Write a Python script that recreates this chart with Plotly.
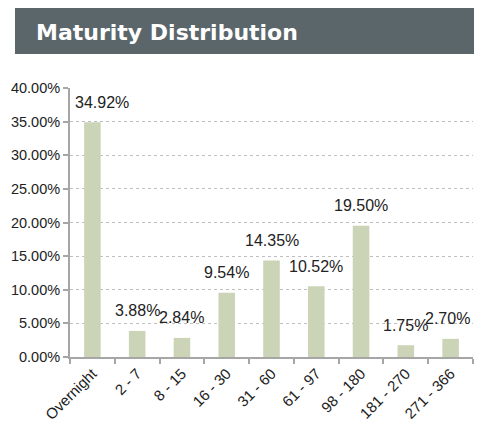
import plotly.graph_objects as go

categories = ["Overnight", "2 - 7", "8 - 15", "16 - 30", "31 - 60", "61 - 97", "98 - 180", "181 - 270", "271 - 366"]
values = [0.3492, 0.0388, 0.0284, 0.0954, 0.1435, 0.1052, 0.1950, 0.0175, 0.0270]
title_text = "Maturity Distribution"

# page shows figure offset by the 8px body margin; work in page pixels
OFF = 8
W, H = 482 - 2 * OFF, 430 - 2 * OFF
L, R, T = 70 - OFF, 1, 88 - OFF
B = H - (357 - OFF)
pw, ph = W - L - R, H - T - B

def px_x(p):
    return (p - OFF - L) / pw

def px_y(p):
    return 1 + (T - (p - OFF)) / ph

fig = go.Figure()
fig.add_trace(go.Bar(
    x=categories, y=values, width=0.37,
    marker=dict(color="#cbd4b6", line=dict(width=0)),
    hoverinfo="skip",
))

for i, (c, v) in enumerate(zip(categories, values)):
    xs = 0
    if i == 0:
        xs = 10
    elif i == len(categories) - 1:
        xs = -3
    fig.add_annotation(
        x=c, y=v, text=f"{v*100:.2f}%", showarrow=False,
        yshift=20, xshift=xs,
        font=dict(family="Liberation Sans, Arial", size=16, color="#222222"),
    )

fig.add_shape(type="rect", xref="paper", yref="paper",
              x0=px_x(15), x1=px_x(500), y0=px_y(54), y1=px_y(0),
              fillcolor="#5b666b", line=dict(width=0), layer="above")
fig.add_annotation(xref="paper", yref="paper", x=px_x(34), y=px_y(32),
                   xanchor="left", yanchor="middle", showarrow=False,
                   text=title_text,
                   font=dict(family="DejaVu Sans", size=22, color="#ffffff", weight="bold"))

fig.update_layout(
    width=W, height=H,
    margin=dict(l=L, r=R, t=T, b=B, autoexpand=False),
    paper_bgcolor="white", plot_bgcolor="white",
    showlegend=False,
    font=dict(family="Liberation Sans, Arial", size=16, color="#222222"),
)
fig.update_xaxes(
    type="category", showline=True, linecolor="#a6a6a6", linewidth=2,
    ticks="outside", tickson="boundaries", ticklen=5, tickcolor="#a6a6a6", tickwidth=2,
    tickangle=-45, showgrid=False, automargin=False,
    tickfont=dict(family="Liberation Sans, Arial", size=15, color="#222222"),
)
fig.update_yaxes(
    range=[0, 0.40], dtick=0.05, tickformat=".2%",
    showline=True, linecolor="#a6a6a6", linewidth=2,
    ticks="outside", ticklen=5, tickcolor="#a6a6a6", tickwidth=2,
    showgrid=True, gridcolor="#bfbfbf", griddash="dot", gridwidth=1,
    zeroline=False, automargin=False,
    tickfont=dict(family="Liberation Sans, Arial", size=14.5, color="#222222"),
)

fig.write_html("out.html")
